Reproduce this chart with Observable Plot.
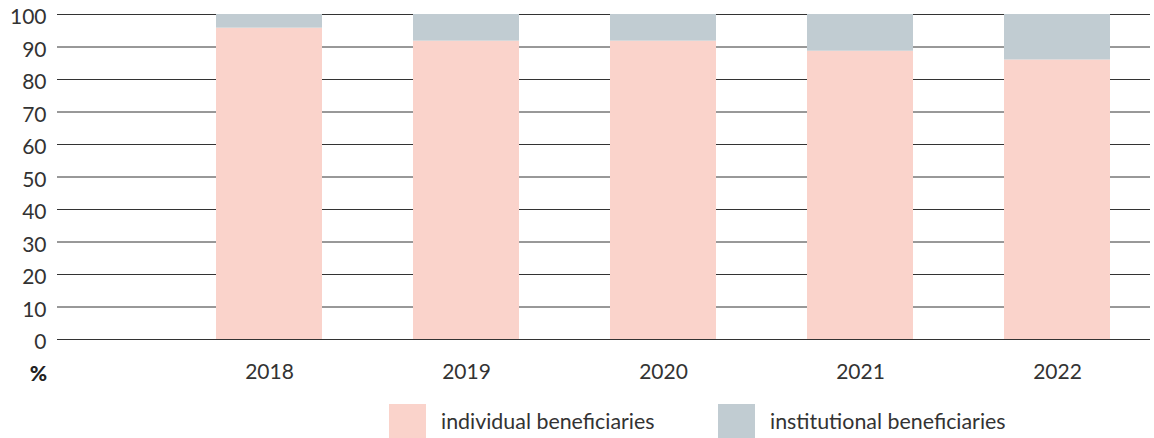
<!DOCTYPE html>
<html>
<head>
<meta charset="utf-8">
<script src="https://cdn.jsdelivr.net/npm/d3@7"></script>
<script src="https://cdn.jsdelivr.net/npm/@observablehq/plot@0.6"></script>
<style>
  html, body { margin: 0; padding: 0; background: #fff; }
  body { font-family: Lato, "Open Sans", sans-serif; color: #333; width: 1154px; overflow: hidden; }
  #legend { display: flex; align-items: center; margin-top: 14px; padding-left: 389px; height: 34px; }
  .item { display: flex; align-items: center; font-size: 21.4px; color: #333; }
  .sw { width: 37px; height: 34px; margin-right: 15px; flex: none; }
</style>
</head>
<body>
<div id="chart"></div>
<div id="legend"></div>
<script>
const years = ["2018", "2019", "2020", "2021", "2022"];
const individual = [95.8, 91.8, 91.8, 88.7, 86.0];
const institutional = [4.2, 8.2, 8.2, 11.3, 14.0];
const seriesNames = ["individual beneficiaries", "institutional beneficiaries"];
const seriesColors = ["#fad3cb", "#c1ccd2"];
const yTicks = [0, 10, 20, 30, 40, 50, 60, 70, 80, 90, 100];

const data = [];
years.forEach((y, i) => {
  data.push({year: y, series: seriesNames[0], value: individual[i]});
  data.push({year: y, series: seriesNames[1], value: institutional[i]});
});

const chart = Plot.plot({
  width: 1154,
  height: 390,
  marginTop: 14,
  marginBottom: 51,
  marginLeft: 57,
  marginRight: 4,
  style: {fontFamily: "Lato, 'Open Sans', sans-serif", fontSize: "21px", color: "#333", background: "#fff"},
  x: {domain: years, range: [216, 1110], padding: 0.4625, paddingOuter: 0, label: null},
  y: {domain: [0, 100], label: null},
  color: {domain: seriesNames, range: seriesColors},
  marks: [
    Plot.gridY(yTicks, {stroke: "#333", strokeOpacity: 1, strokeWidth: 1}),
    Plot.barY(data, {x: "year", y: "value", fill: "series", order: seriesNames}),
    Plot.axisY(yTicks, {tickSize: 0, tickPadding: 11, fontSize: 21, fill: "#333", dy: 3, label: null}),
    Plot.axisX({tickSize: 0, tickPadding: 25, fontSize: 21, fill: "#333", label: null}),
    Plot.text(["%"], {frameAnchor: "bottom-left", dx: -19, dy: 41, fontSize: 21, fontWeight: 900, fill: "#222", textAnchor: "middle"})
  ]
});
document.getElementById("chart").appendChild(chart);

const legend = document.getElementById("legend");
seriesNames.forEach((name, i) => {
  const item = document.createElement("div");
  item.className = "item";
  if (i === 0) item.style.width = "329px";
  const sw = document.createElement("div");
  sw.className = "sw";
  sw.style.background = seriesColors[i];
  const label = document.createElement("span");
  label.textContent = name;
  item.appendChild(sw);
  item.appendChild(label);
  legend.appendChild(item);
});
</script>
</body>
</html>
